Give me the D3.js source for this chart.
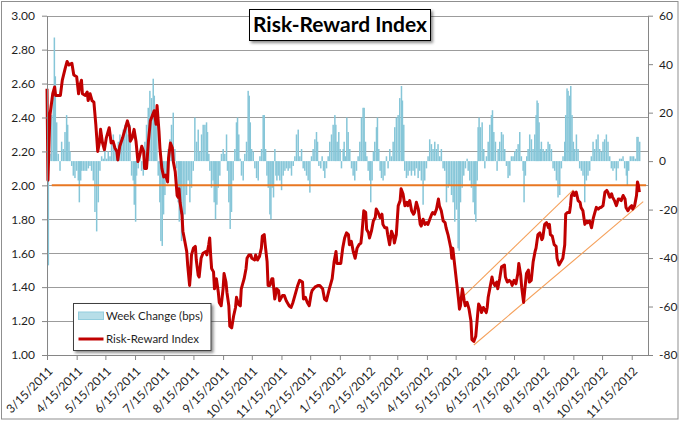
<!DOCTYPE html>
<html><head><meta charset="utf-8">
<script src="https://cdn.jsdelivr.net/npm/d3@7"></script>
<style>
body{margin:0;background:#fff;}
svg{display:block;font-family:Lato,"Open Sans",sans-serif;}
</style>
</head><body>
<svg id="c" width="680" height="421"></svg>
<script>
// ---------------- DATA ----------------
const START_DATE = "2011-03-15";   // day 0 of the day offsets below
const X_END_DAY = 628;             // axis ends ~ 12/2/2012
const xTickLabels = ["3/15/2011","4/15/2011","5/15/2011","6/15/2011","7/15/2011","8/15/2011","9/15/2011","10/15/2011","11/15/2011","12/15/2011","1/15/2012","2/15/2012","3/15/2012","4/15/2012","5/15/2012","6/15/2012","7/15/2012","8/15/2012","9/15/2012","10/15/2012","11/15/2012"];
const leftTicks = [1.00,1.20,1.40,1.60,1.80,2.00,2.20,2.40,2.60,2.80,3.00];
const rightTicks = [-80,-60,-40,-20,0,20,40,60];
const titleText = "Risk-Reward Index";
const legendLabels = ["Week Change (bps)","Risk-Reward Index"];

// Risk-Reward Index: [days since START_DATE, index level]
const riskReward = [[0,2.57],[1,2.03],[3,2.41],[6,2.54],[8,2.58],[9,2.53],[14,2.53],[16,2.62],[19,2.69],[21,2.73],[23,2.71],[26,2.72],[28,2.65],[31,2.64],[33,2.54],[34,2.58],[36,2.62],[37,2.54],[40,2.53],[42,2.55],[43,2.50],[45,2.54],[47,2.50],[49,2.49],[51,2.36],[53,2.20],[55,2.26],[56,2.33],[58,2.25],[60,2.21],[62,2.28],[65,2.34],[67,2.25],[69,2.26],[71,2.22],[73,2.20],[74,2.15],[76,2.23],[79,2.28],[81,2.32],[84,2.38],[86,2.34],[87,2.26],[89,2.28],[91,2.33],[93,2.26],[95,2.14],[97,2.18],[99,2.23],[101,2.20],[102,2.10],[104,2.10],[106,2.26],[108,2.38],[110,2.41],[112,2.44],[114,2.36],[115,2.47],[117,2.32],[118,2.22],[120,2.10],[122,2.05],[124,2.06],[126,2.02],[127,2.16],[129,2.25],[131,2.22],[132,2.14],[134,2.08],[136,1.94],[137,1.93],[138,1.98],[139,1.90],[141,1.83],[142,1.73],[144,1.67],[146,1.61],[147,1.53],[149,1.41],[150,1.48],[151,1.59],[153,1.63],[155,1.64],[156,1.56],[158,1.47],[159,1.46],[161,1.57],[163,1.60],[166,1.61],[167,1.59],[169,1.65],[170,1.69],[171,1.59],[172,1.51],[174,1.49],[175,1.39],[177,1.45],[179,1.37],[180,1.31],[182,1.29],[184,1.39],[185,1.48],[187,1.43],[188,1.37],[190,1.29],[191,1.17],[193,1.16],[195,1.23],[197,1.28],[198,1.34],[200,1.30],[202,1.29],[203,1.39],[206,1.45],[208,1.51],[209,1.57],[211,1.59],
[213,1.59],[214,1.57],[217,1.56],[218,1.59],[220,1.56],[222,1.58],[224,1.63],[225,1.70],[227,1.71],[228,1.65],[230,1.55],[231,1.41],[233,1.41],[235,1.45],[236,1.45],[238,1.33],[240,1.39],[242,1.38],[243,1.32],[246,1.35],[248,1.35],[250,1.32],[253,1.29],[255,1.28],[257,1.31],[259,1.35],[262,1.41],[264,1.44],[267,1.43],[268,1.33],[270,1.34],[272,1.31],[274,1.29],[276,1.36],[277,1.38],[280,1.40],[283,1.41],[285,1.41],[288,1.39],[290,1.33],[292,1.32],[295,1.39],[297,1.43],[298,1.45],[300,1.55],[302,1.61],[303,1.54],[305,1.54],[307,1.54],[309,1.63],[311,1.69],[313,1.72],[315,1.71],[316,1.65],[318,1.67],[320,1.61],[322,1.57],[324,1.63],[326,1.65],[328,1.66],[329,1.71],[331,1.85],[333,1.84],[334,1.74],[336,1.72],[337,1.69],[339,1.73],[341,1.79],[343,1.81],[344,1.86],[346,1.84],[348,1.81],[350,1.83],[351,1.77],[353,1.75],[355,1.75],[356,1.71],[358,1.65],[360,1.73],[362,1.70],[363,1.66],[365,1.71],[367,1.88],[369,1.91],[370,1.98],[372,1.95],[374,1.88],[376,1.90],[377,1.88],[379,1.91],[381,1.85],[383,1.83],[384,1.84],[386,1.90],[388,1.86],[390,1.77],[391,1.76],[393,1.80],[395,1.77],[397,1.78],[398,1.77],[400,1.80],[402,1.83],[403,1.84],[405,1.83],[407,1.86],[409,1.92],[410,1.88],[412,1.85],[414,1.79],[416,1.78],[417,1.75],
[419,1.71],[422,1.63],[423,1.57],[424,1.63],[426,1.53],[428,1.43],[430,1.33],[431,1.27],[432,1.29],[434,1.39],[436,1.32],[437,1.29],[439,1.31],[441,1.27],[443,1.20],[444,1.09],[446,1.08],[448,1.11],[450,1.24],[451,1.30],[453,1.28],[454,1.25],[456,1.28],[457,1.27],[459,1.25],[460,1.28],[461,1.34],[463,1.40],[465,1.46],[466,1.43],[468,1.41],[470,1.43],[471,1.39],[473,1.45],[475,1.52],[478,1.53],[479,1.46],[481,1.43],[483,1.44],[485,1.43],[486,1.41],[488,1.44],[490,1.42],[492,1.48],[493,1.54],[495,1.47],[496,1.40],[498,1.31],[499,1.37],[501,1.48],[503,1.50],[504,1.43],[506,1.44],[508,1.55],[510,1.61],[511,1.63],[513,1.71],[515,1.72],[517,1.68],[518,1.69],[520,1.77],[522,1.78],[524,1.75],[525,1.77],[526,1.71],[528,1.70],[530,1.65],[532,1.64],[533,1.57],[535,1.53],[537,1.55],[539,1.57],[541,1.65],[542,1.83],[544,1.84],[546,1.84],[547,1.88],[548,1.94],[550,1.96],[551,1.94],[553,1.96],[555,1.91],[557,1.90],[558,1.87],[560,1.85],[562,1.77],[564,1.79],[565,1.78],[567,1.79],[569,1.75],[571,1.81],[572,1.83],[574,1.87],[576,1.86],[578,1.87],[579,1.87],[581,1.88],[583,1.96],[585,1.97],[586,1.96],[588,1.93],[590,1.95],[591,1.93],[593,1.91],[595,1.88],[597,1.92],[598,1.92],[600,1.91],[602,1.94],[604,1.92],[605,1.87],[607,1.85],[609,1.87],[611,1.88],[612,1.86],[614,1.88],[616,1.94],[617,2.02],[618,2.00],[619,1.96]];

// Week change (bps): [days since START_DATE, change]
const weekChange = [[0.3,-80],[1.4,-43],[3.1,3],[4.9,19],[6.6,26],[7.7,51],[8.7,35],[10.1,16],[11.8,3],[13.6,-4],[15.3,8],[17.0,5],[18.8,12],[20.5,19],[21.6,15],[23.0,8],[24.0,4],[25.8,-2],[27.5,-6],[29.2,-7],[31.0,-4],[32.7,-8],[33.8,-17],[35.2,-8],[36.2,-4],[37.9,-4],[39.7,-4],[41.4,-4],[43.2,-3],[44.9,-2],[46.6,-4],[48.4,-8],[50.1,-21],[51.9,-29],[53.6,-17],[55.3,-4],[57.1,2],[58.8,1],[60.5,5],[62.3,1],[64.0,4],[65.8,2],[67.5,8],[69.3,11],[71.0,5],[72.7,2],[74.5,8],[76.2,11],[78.0,8],[79.7,13],[81.4,15],[83.2,16],[84.9,11],[86.7,15],[88.4,-6],[90.1,-8],[91.2,-18],[92.6,-25],[93.6,-6],[95.3,-3],[97.1,2],[98.8,-4],[100.6,-6],[102.3,8],[104.0,15],[105.8,22],[107.5,29],[109.3,26],[111.0,34],[112.1,27],[113.4,19],[114.8,15],[116.2,-6],[117.9,-17],[119.0,-33],[120.4,-35],[121.8,-22],[123.2,-14],[124.9,-6],[126.7,5],[128.4,9],[130.1,15],[131.9,20],[133.6,5],[135.4,-3],[137.1,-17],[138.2,-25],[139.5,-22],[140.6,-33],[142.3,-30],[144.1,-22],[145.8,-14],[147.5,-8],[149.3,-17],[151.0,-11],[152.8,-4],[154.5,18],[156.3,8],[158.0,13],[159.7,4],[161.5,11],[163.2,15],[165.0,15],[166.7,16],[167.7,12],[169.1,3],[170.2,-4],[171.9,-11],[173.6,-8],[174.7,-17],[176.1,-24],[177.5,-18],[178.9,-11],[180.6,-6],[182.3,3],[184.1,5],[185.8,3],[187.6,11],[188.6,-4],[190.0,-17],[191.4,-28],[192.8,-21],[194.5,-8],[196.3,5],[198.0,16],[199.1,18],[200.4,11],[201.8,1],[203.2,-6],[205.0,-8],[206.7,3],[208.5,8],[210.2,29],[211.3,27],
[212.4,16],[213.8,5],[215.5,4],[217.2,-3],[219.0,-7],[220.7,-8],[222.5,2],[224.2,5],[225.9,19],[227.0,19],[228.4,5],[229.8,-6],[231.2,-11],[232.9,-22],[234.0,-24],[235.3,-11],[236.7,-15],[238.1,5],[239.2,-6],[240.2,-8],[241.6,-6],[243.3,-8],[245.1,-12],[246.8,-6],[248.6,-4],[250.3,-3],[252.0,-4],[253.8,-3],[255.5,-6],[257.3,-2],[259.0,2],[260.7,11],[262.5,13],[264.2,2],[266.0,5],[267.7,-3],[269.4,-4],[271.2,-6],[272.9,-8],[274.7,-13],[276.4,2],[278.1,5],[279.9,9],[281.6,12],[282.7,8],[284.1,-2],[286.1,-3],[287.5,2],[288.9,-4],[290.3,-7],[292.1,-3],[293.8,2],[295.5,8],[297.3,11],[299.0,15],[300.8,19],[301.8,15],[303.2,8],[304.9,12],[306.3,5],[307.7,-3],[309.5,5],[310.5,8],[311.9,2],[313.3,18],[314.7,12],[316.4,5],[318.2,-3],[319.9,-6],[321.6,-8],[323.4,-4],[325.1,2],[326.9,8],[328.6,18],[330.3,22],[331.4,22],[332.8,8],[334.2,2],[335.6,-4],[337.3,-8],[338.3,-17],[339.7,-8],[341.1,4],[342.5,8],[344.3,14],[345.3,18],[346.7,5],[348.1,-4],[349.5,-7],[351.2,-8],[353.0,-6],[354.7,2],[356.4,-3],[358.2,5],[359.9,2],[361.7,8],[363.4,14],[365.1,18],[366.9,19],[368.6,26],[370.4,31],[371.4,25],[372.8,15],[373.8,-4],[375.6,-7],[377.3,-6],[379.1,-4],[380.8,-6],[382.5,-4],[384.3,-6],[386.0,-3],[387.8,-7],[389.5,-4],[391.2,-8],[393.0,-18],[394.7,-8],[396.5,-3],[398.2,2],[399.9,9],[401.7,7],[403.4,5],[405.2,8],[406.9,5],[408.6,7],[410.4,2],[412.1,5],[413.9,-3],[415.6,-4],
[417.4,-17],[419.2,-11],[420.9,-10],[422.7,-14],[424.4,-17],[426.1,-25],[427.9,-20],[429.6,-36],[430.7,-37],[432.1,-17],[433.8,-11],[435.5,-6],[437.3,-3],[439.0,1],[440.1,-4],[441.8,-8],[443.5,-11],[445.3,-17],[447.0,-22],[448.1,-25],[449.5,-8],[450.5,14],[451.5,18],[452.9,14],[454.7,16],[456.4,5],[457.5,-3],[459.2,2],[461.0,8],[462.7,15],[464.4,19],[465.5,21],[466.9,12],[468.6,8],[470.3,-4],[471.4,5],[473.1,8],[474.9,12],[476.6,11],[478.3,5],[480.1,-2],[481.8,-7],[483.6,-6],[485.3,2],[487.0,2],[488.8,4],[490.5,5],[492.3,7],[494.0,12],[495.7,2],[497.5,-4],[498.5,-17],[499.9,-6],[501.3,2],[502.7,5],[504.4,11],[506.2,9],[507.9,5],[509.7,11],[511.1,19],[512.1,25],[513.1,24],[514.2,16],[515.6,5],[516.6,8],[518.4,5],[520.1,4],[521.8,5],[523.6,8],[525.3,7],[527.1,5],[528.8,-3],[530.5,-4],[532.3,-8],[534.0,-15],[535.8,-14],[537.5,-3],[539.2,2],[541.0,8],[542.0,19],[543.4,30],[544.5,29],[546.2,27],[547.3,31],[548.6,19],[550.0,8],[551.4,5],[553.2,11],[554.9,5],[556.6,-3],[558.4,-4],[560.1,-6],[561.9,-17],[563.6,-8],[565.3,-6],[567.1,-4],[568.8,2],[570.6,8],[572.3,5],[574.0,9],[575.8,11],[577.5,5],[579.3,4],[581.0,8],[582.7,9],[584.5,11],[586.2,8],[588.0,2],[589.7,-3],[591.4,-4],[593.2,-3],[594.9,-8],[596.7,-3],[598.4,1],[600.1,1],[601.9,2],[603.6,-3],[605.4,-6],[606.4,-10],[607.8,-4],[609.5,2],[611.3,2],[613.0,2],[614.8,1],[616.5,10],[617.6,10],[619.3,8]];

// reference level line and trend channel (days since START_DATE, index level)
const refLevel = 2.00;
const refLineDays = [5, 626];
const channelUpper = [[435,1.344],[550,1.973]];
const channelLower = [[446,1.059],[623,1.904]];

// ---------------- CHART ----------------
const svg = d3.select("#c");
const t0 = d3.utcParse("%Y-%m-%d")(START_DATE).getTime();
const dayToDate = d => new Date(t0 + d * 864e5);
const parseTick = d3.utcParse("%m/%d/%Y");

const L = 47, R = 648, T = 15.7, B = 355;
const x = d3.scaleUtc().domain([dayToDate(0), dayToDate(X_END_DAY)]).range([L, R]);
const yL = d3.scaleLinear().domain([1, 3]).range([B, T]);
const yR = d3.scaleLinear().domain([-80, 60]).range([B, T]);

const defs = svg.append("defs");
const sh = defs.append("filter").attr("id","shadow").attr("x","-10%").attr("y","-20%").attr("width","130%").attr("height","160%");
sh.append("feDropShadow").attr("dx",2).attr("dy",2).attr("stdDeviation",1.4).attr("flood-color","#000").attr("flood-opacity",0.45);
defs.append("clipPath").attr("id","plotclip").append("rect").attr("x",L).attr("y",T).attr("width",R-L).attr("height",B-T);

// outer border
svg.append("rect").attr("x",1.5).attr("y",1.5).attr("width",676.5).attr("height",417.5)
  .attr("fill","#fff").attr("stroke","#8f8f8f").attr("stroke-width",1);

// gridlines
svg.append("g").selectAll("line").data(leftTicks).join("line")
  .attr("x1",L).attr("x2",R).attr("y1",d=>Math.round(yL(d))+0.5).attr("y2",d=>Math.round(yL(d))+0.5)
  .attr("stroke","#9c9c9c").attr("stroke-width",1);

// bars
const bw = 1.5;
svg.append("g").attr("clip-path","url(#plotclip)").selectAll("rect").data(weekChange).join("rect")
  .attr("x", d => x(dayToDate(d[0])) - bw/2)
  .attr("width", bw)
  .attr("y", d => Math.min(yR(d[1]), yR(0)))
  .attr("height", d => Math.abs(yR(d[1]) - yR(0)))
  .attr("fill", "#86C6D8");

// reference line at 2.00
svg.append("line")
  .attr("x1", x(dayToDate(refLineDays[0]))).attr("x2", x(dayToDate(refLineDays[1])))
  .attr("y1", yL(refLevel)).attr("y2", yL(refLevel))
  .attr("stroke","#E87722").attr("stroke-width",2);

// channel lines
const seg = d3.line().x(d => x(dayToDate(d[0]))).y(d => yL(d[1]));
[channelUpper, channelLower].forEach(c => {
  svg.append("path").attr("d", seg(c)).attr("fill","none").attr("stroke","#F5A05A").attr("stroke-width",1.1);
});

// index line
svg.append("path").attr("d", seg(riskReward)).attr("fill","none")
  .attr("stroke","#C00000").attr("stroke-width",3).attr("stroke-linejoin","round");

// axes
const axisColor = "#868686", textColor = "#1f1f1f";
const gL = svg.append("g").attr("transform",`translate(${L},0)`)
  .call(d3.axisLeft(yL).tickValues(leftTicks).tickFormat(d3.format(".2f")).tickSize(5).tickSizeOuter(0).tickPadding(7));
const gR = svg.append("g").attr("transform",`translate(${R},0)`)
  .call(d3.axisRight(yR).tickValues(rightTicks).tickFormat(d => String(d)).tickSize(5).tickSizeOuter(0).tickPadding(6));
const gB = svg.append("g").attr("transform",`translate(0,${B})`)
  .call(d3.axisBottom(x).tickValues(xTickLabels.map(parseTick)).tickFormat((d,i) => xTickLabels[i]).tickSize(5).tickSizeOuter(0));
[gL,gR,gB].forEach(g => {
  g.select(".domain").attr("stroke",axisColor);
  g.selectAll(".tick line").attr("stroke",axisColor);
  g.selectAll("text").attr("fill",textColor).attr("font-family","Lato, 'Open Sans', sans-serif").attr("font-size",12);
});
gB.selectAll("text").attr("text-anchor","end").attr("y",0).attr("dy","0.35em")
  .attr("transform","translate(3,14) rotate(-45)");

// title box
const tg = svg.append("g");
const titleRect = tg.append("rect").attr("x",249.5).attr("y",9.5).attr("width",181).attr("height",31)
  .attr("fill","#fff").attr("stroke","#000").attr("stroke-width",1).attr("filter","url(#shadow)");
const tt = tg.append("text").attr("x",340).attr("y",32).attr("text-anchor","middle")
  .attr("font-weight","bold").attr("font-size",20).attr("fill","#000").text(titleText);
const tw = tt.node().getComputedTextLength();
tt.attr("font-size", 20 * 174 / tw);

// legend
const lg = svg.append("g");
lg.append("rect").attr("x",73.5).attr("y",303.5).attr("width",137.5).attr("height",47)
  .attr("fill","#fff").attr("stroke","#404040").attr("stroke-width",1).attr("filter","url(#shadow)");
lg.append("rect").attr("x",78.5).attr("y",312).attr("width",25).attr("height",7.5)
  .attr("fill","#B7DEE8").attr("stroke","#93CDDD").attr("stroke-width",1);
lg.append("line").attr("x1",78.5).attr("x2",103.5).attr("y1",339).attr("y2",339)
  .attr("stroke","#C00000").attr("stroke-width",3);
const lt = lg.selectAll("text.lab").data(legendLabels).join("text").attr("class","lab")
  .attr("x",106).attr("y",(d,i)=> i===0 ? 319.5 : 342.5)
  .attr("font-size",12).attr("fill",textColor).text(d=>d);
const lw = lt.nodes()[0].getComputedTextLength();
lt.attr("font-size", 12 * 97 / lw);
</script>
</body></html>
